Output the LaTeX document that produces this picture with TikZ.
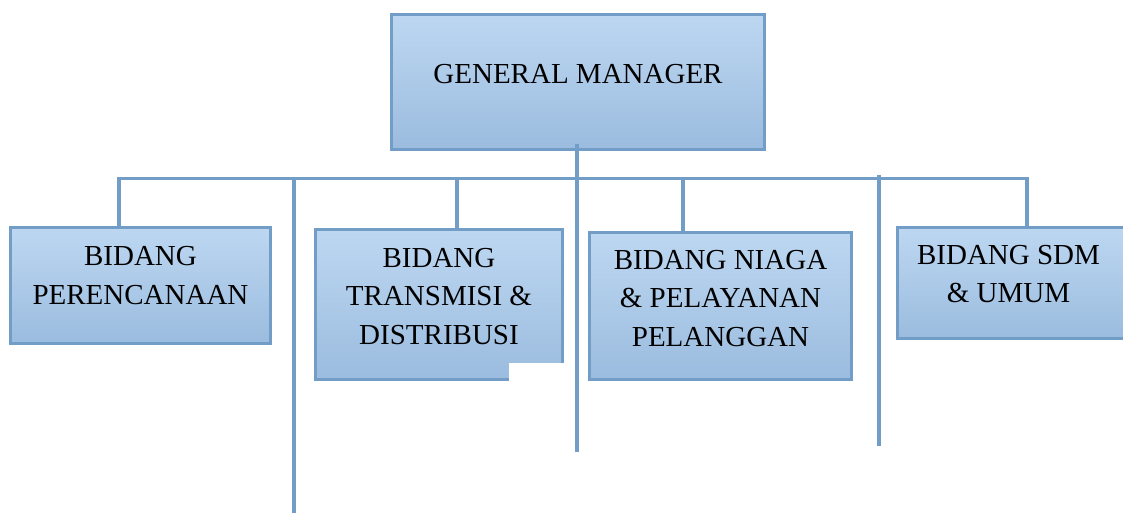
\documentclass[tikz,border=0pt]{standalone}
\usepackage{fontspec}
\setmainfont{Liberation Serif}
\definecolor{edgeblue}{RGB}{114,157,198}
\definecolor{filltop}{RGB}{189,215,241}
\definecolor{fillbot}{RGB}{155,188,223}
\tikzset{
  orgbox/.style={draw=edgeblue, line width=3pt, top color=filltop, bottom color=fillbot, rectangle, inner sep=0pt},
  lbl/.style={align=center, font=\fontsize{29}{38.5}\selectfont, inner sep=0pt, text=black},
  link/.style={draw=edgeblue, line width=3.2pt}
}
\begin{document}
\begin{tikzpicture}[x=1pt,y=-1pt]
\useasboundingbox (0,0) rectangle (1123,513);
\clip (0,0) rectangle (1123,513);
% boxes
\node[orgbox, minimum width=373pt, minimum height=135pt] (gm) at (578,82) {};
\node[orgbox, minimum width=260pt, minimum height=116pt] (b1) at (140.5,285.5) {};
\node[orgbox, minimum width=247pt, minimum height=150pt] (b2) at (439,304.5) {};
\node[orgbox, minimum width=262pt, minimum height=147pt] (b3) at (720.5,306) {};
\node[orgbox, minimum width=240pt, minimum height=111pt] (b4) at (1017.5,282.5) {};
% notch of box 2
\fill[white] (509,363) rectangle (568,385);
% texts
\node[lbl, yshift=8pt] (tgm) at (gm.center) {GENERAL MANAGER};
\node[lbl, yshift=10pt] (t1) at (b1.center) {BIDANG\\PERENCANAAN};
\node[lbl, yshift=8pt] (t2) at (b2.center) {BIDANG\\TRANSMISI \&\\DISTRIBUSI};
\node[lbl, yshift=7.5pt] (t3) at (b3.center) {BIDANG NIAGA\\\& PELAYANAN\\PELANGGAN};
\node[lbl, yshift=9pt] (t4) at (1008.5,283) {BIDANG SDM\\\& UMUM};
% coordinates
\coordinate (busL) at (119,178.5);
\coordinate (busR) at (1027,178.5);
\coordinate (gmtop) at (577,144);
\coordinate (gmend) at (577,452);
\coordinate (c2) at (457,178.5);
\coordinate (c3) at (683,178.5);
\coordinate (d1a) at (294,178.5);
\coordinate (d1b) at (294,513);
\coordinate (d2a) at (879,175);
\coordinate (d2b) at (879,446);
% connectors
\draw[link] (busL |- b1.north) -- ([yshift=1.6pt]busL);
\draw[link] (busL) -- (busR) -- (busR |- b4.north);
\draw[link] (c2) -- (c2 |- b2.north);
\draw[link] (c3) -- (c3 |- b3.north);
\draw[link] (gmtop) -- (gmend);
\draw[link] (d1a) -- (d1b);
\draw[link] (d2a) -- (d2b);
\end{tikzpicture}
\end{document}
